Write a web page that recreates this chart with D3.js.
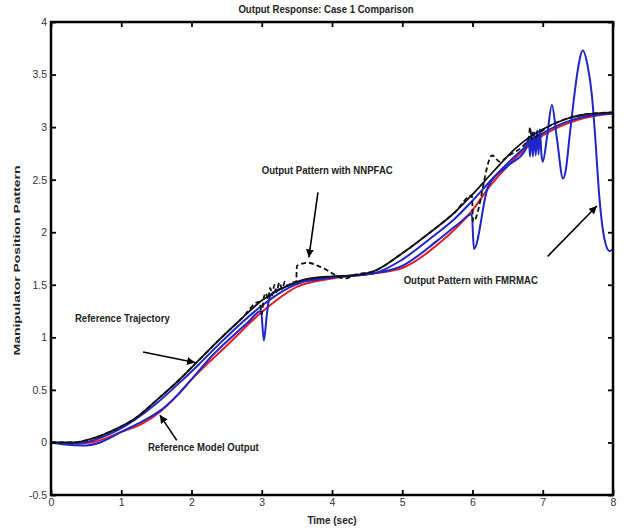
<!DOCTYPE html>
<html><head><meta charset="utf-8">
<script src="https://cdn.jsdelivr.net/npm/d3@7"></script>
<style>body{margin:0;background:#fff}svg{display:block}text{font-family:"Liberation Sans",Arial,sans-serif}</style>
</head><body><svg id="c" width="626" height="531"></svg>
<script>
// ---- data ----
const xTicks = [0,1,2,3,4,5,6,7,8];
const xTickLabels = ["0","1","2","3","4","5","6","7","8"];
const yTicks = [-0.5,0,0.5,1,1.5,2,2.5,3,3.5,4];
const yTickLabels = ["-0.5","0","0.5","1","1.5","2","2.5","3","3.5","4"];

// Reference trajectory (solid black)
const trajT = [0,0.3,0.6,0.9,1.2,1.5,1.8,2.1,2.4,2.7,3.0,3.3,3.6,4.0,4.3,4.6,5.0,5.4,5.75,6.0,6.3,6.6,6.8,7.0,7.3,7.6,8.0];
const trajV = [0,0.0,0.04,0.12,0.23,0.4,0.58,0.78,0.98,1.17,1.35,1.47,1.55,1.58,1.59,1.63,1.8,2.0,2.19,2.36,2.58,2.79,2.9,2.98,3.07,3.12,3.14];

// closely-tracking blue output (solid blue)
const trackT = [0,0.3,0.6,0.9,1.2,1.5,1.8,2.1,2.4,2.7,3.0,3.3,3.6,4.0,4.3,4.6,5.0,5.4,5.75,6.0,6.3,6.6,6.8,7.0,7.3,7.6,8.0];
const trackV = [0,-0.01,0.02,0.1,0.22,0.37,0.55,0.74,0.94,1.13,1.3,1.44,1.53,1.57,1.59,1.61,1.74,1.94,2.13,2.3,2.52,2.72,2.84,2.94,3.04,3.1,3.13];

// NNPFAC output (black dashed)
const nnT = [0,0.3,0.6,0.9,1.2,1.5,1.8,2.1,2.4,2.7,2.97,3.0,3.03,3.06,3.09,3.12,3.15,3.18,3.21,3.25,3.29,3.33,3.37,3.42,3.49,3.5,3.66,3.8,3.9,4.0,4.11,4.2,4.3,4.6,5.0,5.4,5.75,5.99,6.01,6.28,6.39,6.46,6.5,6.8,6.82,6.84,6.86,6.88,7.0,7.3,7.6,8.0];
const nnV = [0,0.0,0.04,0.12,0.23,0.4,0.58,0.78,0.98,1.17,1.34,1.22,1.38,1.42,1.36,1.47,1.4,1.5,1.43,1.52,1.46,1.53,1.49,1.52,1.53,1.68,1.71,1.68,1.65,1.61,1.57,1.56,1.59,1.63,1.8,2.0,2.19,2.35,2.1,2.73,2.67,2.7,2.72,2.89,3.0,2.88,2.95,2.9,2.97,3.07,3.12,3.14];

// FMRMAC output (solid blue, oscillating)
const fmT = [0,0.2,0.45,0.7,1.0,1.3,1.55,1.8,2.0,2.3,2.6,2.8,2.99,3.03,3.07,3.1,3.15,3.3,3.5,3.8,4.0,4.5,5.0,5.5,5.8,5.99,6.02,6.22,6.5,6.75,6.8,6.82,6.84,6.86,6.88,6.9,6.92,6.94,6.96,6.98,7.0,7.06,7.13,7.2,7.29,7.33,7.38,7.44,7.5,7.57,7.64,7.7,7.74,7.81,7.88,7.95,8.0];
const fmV = [0,-0.02,-0.03,0.0,0.1,0.2,0.3,0.45,0.6,0.83,1.02,1.14,1.25,0.97,1.2,1.35,1.42,1.47,1.52,1.55,1.57,1.6,1.68,1.92,2.08,2.17,1.84,2.43,2.63,2.78,2.9,2.72,2.94,2.72,2.95,2.73,2.97,2.74,2.98,2.75,2.67,2.9,3.21,2.9,2.51,2.6,2.9,3.25,3.55,3.73,3.58,3.3,2.97,2.3,1.93,1.82,1.84];

// Reference model output (red)
const rmT = [0,0.4,0.7,1.0,1.3,1.55,1.8,2.0,2.5,3.0,3.5,4.0,4.5,5.0,5.5,6.0,6.25,6.5,7.0,7.5,8.0];
const rmV = [0,-0.01,0.02,0.1,0.18,0.29,0.45,0.6,0.92,1.24,1.48,1.56,1.6,1.66,1.88,2.21,2.44,2.63,2.92,3.07,3.13];

// annotations
const annLabels = ["Output Pattern with NNPFAC","Output Pattern with FMRMAC","Reference Trajectory","Reference Model Output"];
const annTextT = [3.0, 5.02, 0.34, 1.38];
const annTextV = [2.55, 1.51, 1.15, -0.085];
const annFromT = [3.80, 7.07, 1.31, 1.79];
const annFromV = [2.38, 1.77, 0.86, 0.02];
const annToT   = [3.67, 7.77, 2.05, 1.55];
const annToV   = [1.76, 2.25, 0.76, 0.26];

// ---- drawing ----
const svg = d3.select("#c");
const L=51,R=613,T=22,B=495;
const SY = 1.15; // vertical stretch of the original lettering
const x = d3.scaleLinear().domain([0,8]).range([L,R]);
const y = d3.scaleLinear().domain([-0.5,4]).range([B,T]);

svg.append("defs").append("marker").attr("id","ah").attr("viewBox","0 0 10 10")
  .attr("refX",10).attr("refY",5).attr("markerWidth",8).attr("markerHeight",8)
  .attr("markerUnits","userSpaceOnUse").attr("orient","auto")
  .append("path").attr("d","M0,0L10,5L0,10z").attr("fill","#000");

svg.append("clipPath").attr("id","pc").append("rect")
  .attr("x",L).attr("y",T).attr("width",R-L).attr("height",B-T);

const line = (ts,vs)=> d3.line().curve(d3.curveMonotoneX)
  .x((d,i)=>x(ts[i])).y((d,i)=>y(vs[i]))(ts);

const g = svg.append("g").attr("clip-path","url(#pc)");
g.append("path").attr("d",line(rmT,rmV)).attr("fill","none").attr("stroke","#e51c23").attr("stroke-width",2);
g.append("path").attr("d",line(trackT,trackV)).attr("fill","none").attr("stroke","#1f26c9").attr("stroke-width",2);
g.append("path").attr("d",line(fmT,fmV)).attr("fill","none").attr("stroke","#1f26c9").attr("stroke-width",2);
g.append("path").attr("d",line(trajT,trajV)).attr("fill","none").attr("stroke","#111").attr("stroke-width",1.8);
g.append("path").attr("d",line(nnT,nnV)).attr("fill","none").attr("stroke","#111").attr("stroke-width",1.8).attr("stroke-dasharray","5,3");

// axes
const fs = 10.5;
const ax = svg.append("g").attr("transform",`translate(0,${B})`)
  .call(d3.axisBottom(x).tickValues(xTicks).tickFormat((d,i)=>xTickLabels[i]).tickSizeInner(-5).tickSizeOuter(0).tickPadding(4));
const axT = svg.append("g").attr("transform",`translate(0,${T})`)
  .call(d3.axisTop(x).tickValues(xTicks).tickFormat("").tickSizeInner(-5).tickSizeOuter(0));
const ay = svg.append("g").attr("transform",`translate(${L},0)`)
  .call(d3.axisLeft(y).tickValues(yTicks).tickFormat((d,i)=>yTickLabels[i]).tickSizeInner(-5).tickSizeOuter(0).tickPadding(4));
const ayR = svg.append("g").attr("transform",`translate(${R},0)`)
  .call(d3.axisRight(y).tickValues(yTicks).tickFormat("").tickSizeInner(-5).tickSizeOuter(0));
[ax,axT,ay,ayR].forEach(a=>{
  a.select(".domain").remove();
  a.selectAll(".tick line").attr("stroke","#000").attr("stroke-width",1.8);
  a.selectAll(".tick text").attr("font-size",fs).attr("fill","#333").attr("font-family","Liberation Sans, Arial, sans-serif");
});
svg.append("rect").attr("x",L).attr("y",T).attr("width",R-L).attr("height",B-T)
  .attr("fill","none").attr("stroke","#000").attr("stroke-width",2.5);

// stretched horizontal text helper
function htext(px,py,str,size,anchor){
  return svg.append("text").attr("transform",`translate(${px},${py}) scale(1,${SY})`)
    .attr("text-anchor",anchor||"start").attr("font-size",size).attr("font-weight","bold")
    .attr("fill","#222").text(str);
}
htext((L+R)/2-6,13,"Output Response: Case 1 Comparison",9.6,"middle");
htext((L+R)/2,524,"Time (sec)",10,"middle");
svg.append("text").attr("transform",`translate(20,${(T+B)/2+2}) rotate(-90)`).attr("text-anchor","middle")
  .attr("font-size",9.5).attr("font-weight","bold").attr("fill","#222")
  .attr("textLength",190).attr("lengthAdjust","spacingAndGlyphs").text("Manipulator Position Pattern");

annLabels.forEach((t,i)=>{
  htext(x(annTextT[i]),y(annTextV[i]),t,9.6);
  svg.append("line").attr("x1",x(annFromT[i])).attr("y1",y(annFromV[i]))
    .attr("x2",x(annToT[i])).attr("y2",y(annToV[i]))
    .attr("stroke","#000").attr("stroke-width",1.6).attr("marker-end","url(#ah)");
});
</script></body></html>
